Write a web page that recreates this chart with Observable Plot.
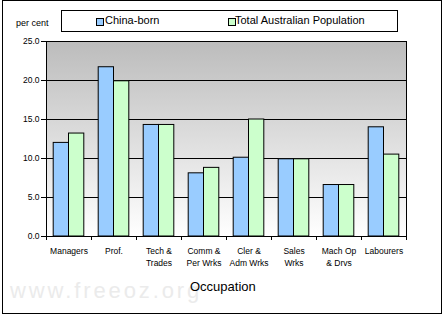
<!DOCTYPE html>
<html><head><meta charset="utf-8">
<script src="https://cdn.jsdelivr.net/npm/d3@7"></script>
<script src="https://cdn.jsdelivr.net/npm/@observablehq/plot@0.6"></script>
<style>
body{margin:0;background:#fff;font-family:"Liberation Sans",Arial,sans-serif;}
#wrap{position:relative;width:443px;height:316px;overflow:hidden;}
#wrap svg{position:absolute;left:0;top:0;}
.abs{position:absolute;white-space:nowrap;}
</style></head>
<body>
<div id="wrap"></div>
<script>
const categories = ["Managers","Prof.","Tech & Trades","Comm & Per Wrks","Cler & Adm Wrks","Sales Wrks","Mach Op & Drvs","Labourers"];
const tickLabels = ["Managers","Prof.","Tech &\nTrades","Comm &\nPer Wrks","Cler &\nAdm Wrks","Sales\nWrks","Mach Op\n& Drvs","Labourers"];
const chinaBorn = [12.0,21.7,14.3,8.1,10.1,9.9,6.6,14.0];
const totalAus  = [13.2,19.9,14.3,8.8,15.0,9.9,6.6,10.5];
const yTicks = [0,5,10,15,20,25];
const seriesNames = ["China-born","Total Australian Population"];
const colors = ["#99ccff","#ccffcc"];

const china = categories.map((c,i)=>({cat:c, v:chinaBorn[i]}));
const total = categories.map((c,i)=>({cat:c, v:totalAus[i]}));

const W = 443, H = 316, mL = 46, mR = 37, mT = 41, mB = 80;
const step = (W - mL - mR) / categories.length;
const bw = step * 0.68;

const gradMark = () => {
  const defs = d3.create("svg:defs");
  const g = defs.append("linearGradient").attr("id","bgGrad").attr("x1",0).attr("y1",0).attr("x2",0).attr("y2",1);
  g.append("stop").attr("offset","0%").attr("stop-color","#bcbcbc");
  g.append("stop").attr("offset","100%").attr("stop-color","#ffffff");
  return defs.node();
};

const chart = Plot.plot({
  width: W, height: H,
  marginLeft: mL, marginRight: mR, marginTop: mT, marginBottom: mB,
  style: {fontFamily: '"Liberation Sans",Arial,sans-serif', fontSize: "8.5px", color: "#000", background: "transparent"},
  x: {type: "band", domain: categories, paddingInner: 0.32, paddingOuter: 0.16, round: false, axis: null},
  y: {domain: [0,25], axis: null},
  marks: [
    gradMark,
    Plot.frame({fill: "url(#bgGrad)", stroke: null}),
    Plot.gridY(yTicks.filter(t=>t>0 && t<25), {stroke: "#000", strokeOpacity: 1, strokeWidth: 1}),
    Plot.barY(china, {x: "cat", y: "v", fill: colors[0], stroke: "#000", strokeWidth: 1, insetRight: bw/2, insetLeft: 0}),
    Plot.barY(total, {x: "cat", y: "v", fill: colors[1], stroke: "#000", strokeWidth: 1, insetLeft: bw/2, insetRight: 0}),
    Plot.frame({stroke: "#000", strokeWidth: 1}),
    Plot.axisY({ticks: yTicks, tickFormat: d3.format(".1f"), tickSize: 5, tickPadding: 2, fontSize: 8.5, stroke: "#000", label: null}),
    Plot.ruleX(categories, {x: d=>d, y1: 0, y2: 0, dx: -step/2, insetBottom: -4, stroke: "#000"}),
    Plot.ruleX(categories.slice(-1), {x: d=>d, y1: 0, y2: 0, dx: step/2, insetBottom: -4, stroke: "#000"}),
    Plot.text(categories, {x: d=>d, frameAnchor: "bottom", text: (d,i)=>tickLabels[i], lineAnchor: "top", dy: 9, lineHeight: 1.4, fontSize: 8.5, fill: "#000"})
  ]
});
const wrap = document.getElementById("wrap");
wrap.appendChild(chart);

function add(html, css){const d=document.createElement("div");d.className="abs";d.innerHTML=html;Object.assign(d.style,css);wrap.appendChild(d);return d;}
// outer border
add("", {left:"2px", top:"0px", width:"438px", height:"312px", border:"1px solid #000"});
// watermark
add("www.freeoz.org", {left:"10px", top:"278px", fontSize:"22px", letterSpacing:"2.9px", color:"#ebebeb"});
// per cent
add("per cent", {left:"16px", top:"18px", fontSize:"9px", color:"#000"});
// axis title
add("Occupation", {left:"190px", top:"279px", fontSize:"13px", color:"#000"});
// legend box
add("", {left:"61px", top:"10px", width:"335px", height:"20px", border:"1px solid #000", background:"#fff"});
const lx = [96, 228], tx = [105, 235];
seriesNames.forEach((s,i)=>{
  add("", {left: lx[i]+"px", top:"18px", width:"6px", height:"6px", border:"1px solid #000", background: colors[i]});
  add(s, {left: tx[i]+"px", top:"14px", fontSize:"11px", color:"#000"});
});
</script>
</body></html>
